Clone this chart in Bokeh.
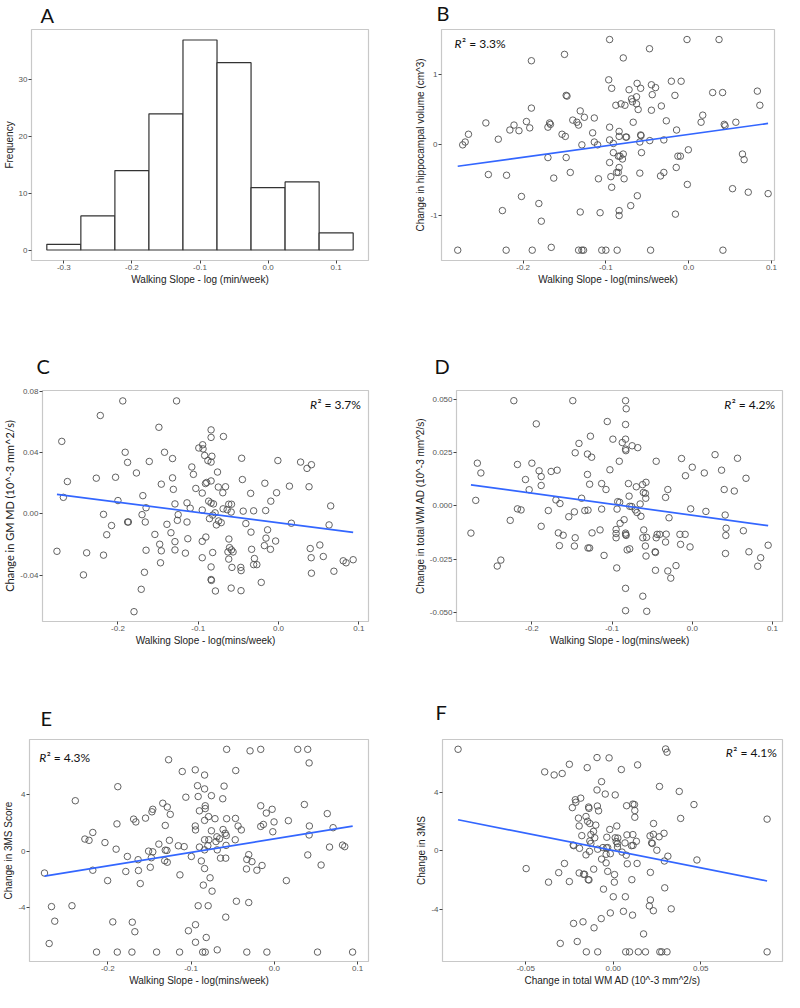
from bokeh.plotting import figure
from bokeh.layouts import column, row
from bokeh.models import FixedTicker, Label, Range1d
from bokeh.embed import file_html
from bokeh.resources import INLINE

# ---------------- data ----------------
# A: histogram of walking slope
bin_edges = [-0.325, -0.275, -0.225, -0.175, -0.125, -0.075, -0.025, 0.025, 0.075, 0.125]
hist_counts = [1, 6, 14, 24, 37, 33, 11, 12, 3]

# B: walking slope vs change in hippocampal volume
b_x = [-0.279, -0.2205, -0.189, -0.166, -0.133, -0.129, -0.127, -0.105, -0.100, -0.0864, -0.046, 0.0414,
       -0.0955, -0.002, 0.0367, -0.0473, -0.150, -0.190, -0.079,
       -0.0966, -0.0209, -0.0091, -0.0623, -0.045, -0.040, -0.093, -0.058, -0.072, 0.083,
       0.029, 0.041, -0.044, -0.0166, -0.148, -0.147, -0.063, -0.069, -0.068, -0.0817,
       -0.077, -0.088, -0.063, -0.033, 0.086, -0.190, -0.061, -0.045, -0.131,
       -0.140, -0.126, -0.135, -0.133, -0.114, -0.245, -0.211, -0.196, -0.192, -0.205,
       -0.216, -0.168, -0.167, -0.170, -0.153, -0.149, -0.067, -0.027, 0.017, 0.015,
       0.057, 0.043, 0.044, -0.0955, -0.0146, -0.116, -0.084, -0.084, -0.076, -0.075,
       -0.058, -0.0575, -0.266, -0.270, -0.273, -0.230, -0.0955, -0.114, -0.110, -0.129,
       -0.091, -0.059, -0.047, -0.030,
       -0.0004, -0.170, -0.148, -0.085, -0.083, -0.080, -0.091, -0.079, -0.057, -0.013,
       -0.010, -0.0955, 0.065, 0.067, -0.084, -0.015, -0.087, -0.085, -0.030, -0.034,
       -0.143, -0.094, -0.163, -0.109, -0.078, -0.059, -0.242, -0.220, -0.093, -0.0016,
       0.053, 0.072, 0.096, -0.062, -0.202, -0.181, -0.070, -0.084, -0.084, -0.225,
       -0.131, -0.107, -0.016, -0.178]
b_y = [-1.49, -1.49, -1.49, -1.45, -1.49, -1.49, -1.49, -1.49, -1.49, -1.49, -1.49, -1.49,
       1.49, 1.49, 1.49, 1.36, 1.28, 1.19, 1.23,
       0.92, 0.90, 0.90, 0.87, 0.85, 0.81, 0.80, 0.80, 0.78, 0.76,
       0.74, 0.74, 0.71, 0.70, 0.70, 0.69, 0.68, 0.65, 0.61, 0.58,
       0.56, 0.56, 0.58, 0.55, 0.56, 0.52, 0.50, 0.49, 0.48,
       0.35, 0.39, 0.32, 0.28, 0.38, 0.31, 0.28, 0.33, 0.24, 0.20,
       0.21, 0.31, 0.29, 0.25, 0.15, 0.12, 0.32, 0.34, 0.42, 0.32,
       0.32, 0.29, 0.27, 0.25, 0.21, 0.17, 0.19, 0.12, 0.11, 0.11,
       0.14, 0.13, 0.15, 0.04, 0.00, 0.08, 0.07, 0.04, 0.00, 0.00,
       0.02, 0.04, 0.06, 0.07,
       -0.07, -0.18, -0.18, -0.16, -0.16, -0.20, -0.11, -0.13, -0.11, -0.16,
       -0.16, -0.25, -0.13, -0.21, -0.32, -0.32, -0.39, -0.39, -0.39, -0.44,
       -0.39, -0.45, -0.47, -0.48, -0.48, -0.40, -0.42, -0.43, -0.60, -0.56,
       -0.62, -0.67, -0.69, -0.72, -0.73, -0.83, -0.86, -0.93, -1.00, -0.93,
       -0.95, -0.96, -0.98, -1.08]
b_fit_x = [-0.279, 0.0959]
b_fit_y = [-0.303, 0.303]

# C: walking slope vs change in GM MD
c_x = [-0.194, -0.127, -0.222, -0.149, -0.084, -0.084, -0.0686, -0.270, -0.0945, -0.0993,
       -0.094, -0.191, -0.142, -0.092, -0.083, -0.132, -0.0459, -0.188, -0.161, -0.088,
       -0.084, -0.0008, 0.0275, 0.041, 0.0355, -0.108, -0.106, -0.076, -0.177, -0.227,
       -0.203, -0.132, -0.263, -0.084, -0.091, -0.0895, -0.045, -0.146, -0.075, -0.066,
       -0.017, 0.0136, 0.038, -0.103, -0.131, -0.095, -0.0694, -0.0347, -0.0024, -0.169,
       -0.268, -0.200, -0.087, -0.0096, -0.129, -0.114, -0.084, -0.081, -0.062, -0.0586,
       0.065, -0.165, -0.110, -0.095, -0.069, -0.064, -0.059, -0.044, -0.031, -0.016,
       -0.218, -0.170, -0.125, -0.079, -0.082, -0.086, -0.126, -0.188, -0.187, -0.166,
       -0.114, -0.0746, -0.0714, -0.0774, -0.139, -0.0407, 0.016, 0.063, -0.208, -0.0136,
       -0.134, -0.0343, -0.214, -0.154, -0.0905, -0.113, -0.0156, -0.129, -0.095, -0.0618,
       -0.0036, -0.148, 0.0515, -0.0176, -0.0100, -0.061, -0.0335, 0.0395, -0.276, -0.165,
       -0.146, -0.129, -0.0586, -0.0566, -0.082, -0.116, -0.239, -0.063, -0.218, 0.0558,
       0.0407, -0.095, -0.062, -0.030, 0.0806, 0.0842, 0.093, -0.147, -0.031, -0.027,
       -0.084, -0.058, -0.047, -0.0466, 0.069, -0.167, 0.041, -0.243, -0.084, -0.0836,
       -0.0215, -0.171, -0.059, -0.0786, -0.0467, -0.180]
c_y = [0.0736, 0.0736, 0.0641, 0.0564, 0.0547, 0.0498, 0.0504, 0.0472, 0.0450, 0.0429,
       0.0423, 0.0401, 0.0401, 0.0380, 0.0375, 0.0360, 0.0362, 0.0335, 0.0341, 0.0347,
       0.0337, 0.0347, 0.0337, 0.0320, 0.0296, 0.0305, 0.0257, 0.0272, 0.0266, 0.0232,
       0.0238, 0.0234, 0.0210, 0.0214, 0.0197, 0.0204, 0.0223, 0.0193, 0.0174, 0.0176,
       0.0199, 0.0180, 0.0176, 0.0165, 0.0159, 0.0135, 0.0137, 0.0133, 0.0137, 0.0118,
       0.0107, 0.0086, 0.0082, 0.0082, 0.0064, 0.0071, 0.0070, 0.0064, 0.0062, 0.0062,
       0.0051, 0.0039, 0.0036, 0.0024, 0.0032, 0.0026, 0.0011, 0.0017, 0.0019, 0.0021,
       -0.0004, -0.0006, -0.0006, 0.0006, -0.0009, -0.0032, -0.0043, -0.0054, -0.0054, -0.0054,
       -0.0054, -0.0047, -0.0058, -0.0073, -0.0069, -0.0064, -0.0062, -0.0073, -0.0077, -0.0105,
       -0.0124, -0.0120, -0.0137, -0.0135, -0.0152, -0.0163, -0.0159, -0.0182, -0.0180, -0.0165,
       -0.0178, -0.0199, -0.0204, -0.0208, -0.0232, -0.0221, -0.0232, -0.0227, -0.0245, -0.0238,
       -0.0242, -0.0236, -0.0236, -0.0249, -0.0253, -0.0257, -0.0255, -0.0249, -0.0270, -0.0279,
       -0.0287, -0.0287, -0.0296, -0.0292, -0.0307, -0.0320, -0.0300, -0.0320, -0.0332, -0.0332,
       -0.0347, -0.0350, -0.0350, -0.0371, -0.0375, -0.0382, -0.0388, -0.0399, -0.0429, -0.0435,
       -0.0448, -0.0493, -0.0485, -0.0504, -0.0502, -0.0639]
c_fit_x = [-0.276, 0.093]
c_fit_y = [0.01265, -0.0122]

# D: walking slope vs change in total WM AD
d_x = [-0.2225, -0.149, -0.0832, -0.0824, -0.1945, -0.106, -0.0832, -0.099, -0.0832, -0.127,
       -0.0873, -0.0832, -0.0828, -0.075, -0.068, -0.1413, -0.146, -0.1307, -0.1255, -0.045,
       -0.091, -0.0134, 0.0284, 0.0564, 0.0, -0.268, -0.218, -0.200, -0.2636, -0.191,
       -0.176, -0.1685, -0.1884, -0.1027, -0.1307, 0.015, -0.0085, 0.0365, 0.067, -0.208,
       -0.128, -0.113, -0.1884, -0.0796, -0.0698, -0.062, -0.0577, -0.1076, -0.2034, -0.0305,
       0.0398, 0.0524, -0.061, -0.0585, -0.0333, -0.0788, -0.058, -0.138, -0.270, -0.170,
       -0.165, -0.093, -0.0905, -0.065, -0.078, -0.0755, -0.0938, -0.113, -0.218, -0.2135,
       -0.1795, -0.134, -0.130, -0.147, -0.071, -0.069, -0.002, 0.017, -0.154, -0.064,
       -0.085, 0.041, -0.029, -0.227, -0.090, -0.1884, 0.0422, -0.115, -0.095, -0.0605,
       0.0637, -0.095, -0.0832, -0.276, -0.167, -0.161, -0.125, -0.083, -0.0825, -0.0438,
       -0.0406, -0.0325, -0.0154, -0.0089, 0.0418, -0.146, -0.095, -0.0617, -0.057, -0.045,
       -0.0333, -0.0146, -0.0028, 0.0946, -0.1657, -0.147, -0.130, -0.128, -0.0585, -0.0812,
       -0.0780, -0.0463, -0.0459, 0.0706, 0.0414, -0.110, -0.0577, 0.0853, -0.2387, -0.2432,
       -0.0203, 0.0816, -0.0942, -0.0459, -0.0305, -0.0268, -0.0832, -0.0617, -0.0832, -0.0568]
d_y = [0.0495, 0.0495, 0.0495, 0.0457, 0.0386, 0.0397, 0.0383, 0.0314, 0.0314, 0.0328,
       0.0298, 0.0267, 0.0260, 0.0283, 0.0274, 0.0294, 0.0250, 0.0244, 0.0229, 0.0210,
       0.0210, 0.0223, 0.0241, 0.0224, 0.0182, 0.0201, 0.0195, 0.0201, 0.0155, 0.0165,
       0.0162, 0.0168, 0.0138, 0.0170, 0.0148, 0.0155, 0.0142, 0.0168, 0.0130, 0.0124,
       0.0102, 0.0105, 0.0096, 0.0105, 0.0090, 0.0100, 0.0111, 0.0077, 0.0076, 0.0077,
       0.0077, 0.0070, 0.0063, 0.0059, 0.0040, 0.0046, 0.0036, 0.0036, 0.0026, 0.0028,
       0.0011, 0.0020, 0.0017, 0.0009, -0.0002, -0.0003, -0.0015, -0.0015, -0.0014, -0.0019,
       -0.0022, -0.0022, -0.0020, -0.0028, -0.0019, -0.0031, -0.0014, -0.0026, -0.0051, -0.0049,
       -0.0065, -0.0043, -0.0056, -0.0068, -0.0082, -0.0096, -0.0105, -0.0113, -0.0111, -0.0113,
       -0.0117, -0.0130, -0.0128, -0.0128, -0.0127, -0.0138, -0.0127, -0.0135, -0.0139, -0.0134,
       -0.0134, -0.0133, -0.0134, -0.0134, -0.0139, -0.0150, -0.0150, -0.0150, -0.0148, -0.0150,
       -0.0170, -0.0181, -0.0193, -0.0185, -0.0187, -0.0189, -0.0198, -0.0198, -0.0189, -0.0207,
       -0.0202, -0.0216, -0.0219, -0.0216, -0.0224, -0.0233, -0.0236, -0.0244, -0.0255, -0.0283,
       -0.0281, -0.0284, -0.0292, -0.0303, -0.0306, -0.0340, -0.0388, -0.0425, -0.0493, -0.0496]
d_fit_x = [-0.276, 0.0946]
d_fit_y = [0.0099, -0.0093]

# E: walking slope vs change in 3MS score
e_x = [-0.0573, -0.0292, -0.0164, 0.028, 0.040, 0.0417, -0.127, -0.1106, -0.095, -0.0464,
       -0.0838, -0.0923, -0.0604, -0.188, -0.0838, -0.0756, -0.0915, -0.1063, -0.062, -0.239,
       -0.134, 0.036, -0.1286, -0.083, -0.0164, -0.083, -0.146, -0.147, -0.0027, -0.090,
       -0.0097, -0.125, 0.0635, -0.079, -0.1547, -0.169, -0.0713, -0.0573, -0.0467, -0.0838,
       -0.1663, 0.0168, -0.0004, -0.189, -0.131, -0.095, -0.0436, 0.042, -0.0164, -0.0132,
       0.0705, -0.0947, -0.0756, -0.0616, -0.0397, -0.218, -0.0019, -0.059, -0.0577, 0.0417,
       -0.069, -0.0658, -0.2275, -0.2225, -0.126, -0.0838, -0.0787, -0.047, -0.0701, -0.2034,
       -0.1387, -0.1153, -0.1083, -0.090, -0.0799, -0.058, 0.0662, 0.0818, 0.0845, -0.190,
       -0.0838, -0.0686, -0.151, -0.146, -0.131, -0.129, -0.0997, -0.1765, -0.1477, -0.0647,
       -0.0584, -0.1636, -0.1317, -0.1286, -0.0877, -0.0308, -0.0331, -0.0269, -0.149, -0.0148,
       0.0561, -0.276, -0.218, -0.1632, -0.1784, -0.0838, -0.0335, -0.021, -0.1134, 0.0401,
       -0.2002, 0.0144, -0.0772, -0.161, -0.0853, -0.0748, -0.0456, -0.0308, -0.2676, -0.243,
       -0.0915, -0.0795, -0.0584, -0.2637, -0.194, -0.1706, -0.1675, -0.0947, -0.1032, -0.0818,
       -0.2704, -0.0947, -0.0686, -0.2135, -0.1886, -0.171, -0.1414, -0.1138, -0.0861, -0.083,
       -0.0331, -0.009, 0.0518, 0.0939]
e_y = [7.25, 7.14, 7.25, 7.25, 7.25, 6.28, 6.51, 5.67, 5.79, 5.74,
       5.42, 4.66, 4.63, 4.59, 4.43, 3.95, 3.89, 3.84, 3.73, 3.59,
       3.41, 3.32, 3.14, 3.23, 3.23, 3.03, 2.98, 2.80, 2.98, 2.87,
       2.71, 2.62, 2.67, 2.46, 2.35, 2.28, 2.31, 2.31, 2.33, 2.19,
       2.08, 2.17, 2.08, 1.94, 1.83, 1.79, 1.79, 1.79, 1.76, 1.90,
       1.67, 1.51, 1.45, 1.54, 1.51, 1.33, 1.38, 1.27, 1.11, 1.15,
       1.02, 0.88, 0.86, 0.77, 0.77, 0.81, 0.81, 0.81, 0.68, 0.61,
       0.50, 0.38, 0.32, 0.29, 0.38, 0.41, 0.29, 0.43, 0.32, 0.14,
       0.09, 0.09, 0.0, -0.05, 0.07, 0.05, -0.38, -0.38, -0.47, -0.50,
       -0.50, -0.61, -0.68, -0.79, -0.70, -0.25, -0.59, -0.75, -1.15, -1.02,
       -0.99, -1.56, -1.36, -1.38, -1.45, -1.24, -1.27, -1.36, -1.69, -0.27,
       -2.10, -2.10, -1.90, -2.31, -2.42, -2.85, -3.57, -3.66, -3.95, -3.89,
       -3.89, -3.89, -4.70, -4.99, -5.04, -5.06, -5.74, -5.24, -5.67, -6.15,
       -6.58, -6.49, -7.03, -7.19, -7.19, -7.19, -7.19, -7.19, -7.19, -7.19,
       -7.19, -7.19, -7.19, -7.19]
e_fit_x = [-0.276, 0.094]
e_fit_y = [-1.785, 1.785]

# F: change in total WM AD vs change in 3MS
f_x = [-0.0887, 0.0299, 0.0307, -0.0093, -0.0024, -0.0251, 0.0139, -0.0149, 0.0046, -0.0392,
       -0.0338, -0.0292, -0.0067, -0.0093, -0.0046, 0.0011, 0.0264, 0.0377, 0.0461, -0.0217,
       -0.0214, -0.0186, -0.0234, -0.0141, -0.0139, -0.0091, -0.0084, 0.0076, 0.0112, 0.0121,
       0.0123, 0.0123, 0.0385, 0.0879, -0.0199, -0.0156, -0.0147, -0.0134, -0.0100, -0.0195,
       -0.0113, -0.0020, 0.0020, 0.0230, -0.0180, -0.0128, -0.0106, -0.0037, 0.0011, 0.0026,
       0.0078, 0.0112, 0.0210, 0.0229, 0.0262, 0.0290, -0.0134, -0.0128, 0.0017, 0.0024,
       0.0067, 0.0104, 0.0113, 0.0132, 0.0219, 0.0223, -0.0229, -0.0226, -0.0193, -0.0089,
       -0.0059, -0.0039, -0.0032, 0.0024, 0.0050, -0.0136, -0.0156, 0.0074, -0.0017, -0.0041,
       0.0249, 0.0312, 0.0292, 0.0478, -0.0067, -0.0041, -0.0279, 0.0080, 0.0136, -0.0498,
       -0.0112, -0.0032, -0.0312, -0.0195, -0.0164, -0.0170, 0.0007, 0.0212, -0.0143, -0.0139,
       0.0106, -0.0370, -0.0251, 0.0006, -0.0056, 0.0294, 0.0000, 0.0069, 0.0212, 0.0206,
       0.0229, 0.0331, 0.0058, -0.0017, 0.0110, -0.0069, -0.0173, -0.0227, -0.0110, 0.0173,
       -0.0206, -0.0303, -0.0154, -0.0089, 0.0071, 0.0093, 0.0143, 0.0184, 0.0266, 0.0277,
       0.0307, 0.0879]
f_y = [6.96, 6.98, 6.76, 6.39, 6.37, 5.93, 5.89, 5.70, 5.57, 5.41,
       5.20, 5.30, 4.74, 4.17, 3.89, 3.83, 4.41, 4.07, 3.17, 3.50,
       3.33, 3.61, 2.96, 3.00, 2.91, 3.07, 2.74, 3.09, 3.20, 3.17,
       2.76, 2.30, 2.22, 2.17, 2.24, 2.35, 2.02, 1.87, 1.76, 1.70,
       1.33, 1.46, 1.70, 1.87, 1.04, 1.11, 0.89, 0.93, 0.89, 0.87,
       1.09, 1.11, 1.02, 1.13, 0.96, 1.20, 0.67, 0.50, 0.63, 0.50,
       0.54, 0.35, 0.37, 0.65, 0.54, 0.50, 0.39, 0.35, 0.17, 0.11,
       0.22, 0.20, 0.22, 0.26, -0.09, -0.04, -0.28, -0.30, -0.20, -0.24,
       0.04, -0.37, -0.70, -0.63, -0.57, -0.83, -0.87, -0.89, -0.87, -1.22,
       -1.26, -1.41, -1.50, -1.52, -1.61, -1.61, -1.63, -1.48, -1.98, -2.00,
       -1.98, -2.15, -2.11, -2.15, -2.63, -2.54, -3.15, -3.15, -3.37, -3.78,
       -4.11, -3.98, -4.15, -4.26, -4.41, -4.65, -4.87, -4.98, -5.28, -5.70,
       -6.22, -6.35, -6.93, -6.93, -6.93, -6.93, -6.93, -6.93, -6.93, -6.93,
       -6.93, -6.93]
f_fit_x = [-0.0887, 0.0879]
f_fit_y = [2.13, -2.07]

# ticks and labels
slope_ticks_a = [-0.3, -0.2, -0.1, 0.0, 0.1]
slope_labels_a = ["-0.3", "-0.2", "-0.1", "0.0", "0.1"]
freq_ticks = [0, 10, 20, 30]
freq_labels = ["0", "10", "20", "30"]
slope_ticks = [-0.2, -0.1, 0.0, 0.1]
slope_labels = ["-0.2", "-0.1", "0.0", "0.1"]
hippo_ticks = [-1, 0, 1]
hippo_labels = ["-1", "0", "1"]
gmmd_ticks = [-0.04, 0.0, 0.04, 0.08]
gmmd_labels = ["-0.04", "0.00", "0.04", "0.08"]
wmad_ticks = [-0.05, -0.025, 0.0, 0.025, 0.05]
wmad_labels = ["-0.050", "-0.025", "0.000", "0.025", "0.050"]
ms_ticks = [-4, 0, 4]
ms_labels = ["-4", "0", "4"]
wmad_x_ticks = [-0.05, 0.0, 0.05]
wmad_x_labels = ["-0.05", "0.00", "0.05"]

panel_letters = ["A", "B", "C", "D", "E", "F"]
r2_texts = {"B": "3.3%", "C": "3.7%", "D": "4.2%", "E": "4.3%", "F": "4.1%"}

# ---------------- styling helpers ----------------
TICK_FONT = "Liberation Sans"
LETTER_FONT = "Lato"
W = 392
FULL_W = 2 * W


def letter_strip(letters, h, positions):
    """A full-width strip above a row of panels carrying the panel letters (pixel coords)."""
    s = figure(width=FULL_W, height=h, x_range=Range1d(0, FULL_W), y_range=Range1d(0, h),
               output_backend="svg", toolbar_location=None,
               x_axis_type=None, y_axis_type=None, min_border=0,
               outline_line_color=None, background_fill_color="white",
               border_fill_color="white")
    s.grid.visible = False
    for letter, (lx, ly) in zip(letters, positions):
        s.add_layout(Label(x=lx, y=ly, text=letter, text_font=LETTER_FONT,
                           text_font_size="20px", text_color="#111111",
                           text_align="left", text_baseline="alphabetic"))
    return s


def make_fig(h, xr, yr, bl, br, bt, bb):
    p = figure(width=W, height=h, x_range=Range1d(*xr), y_range=Range1d(*yr),
               output_backend="svg", toolbar_location=None,
               min_border_left=bl, min_border_right=br,
               min_border_top=bt, min_border_bottom=bb,
               background_fill_color="white", border_fill_color="white")
    p.grid.visible = False
    p.outline_line_color = "#c8c8c8"
    p.outline_line_width = 1.2
    return p


def style_axes(p, xt, xl, yt, yl, xlab, ylab, ylab_font=TICK_FONT, ylab_size="10px"):
    p.xaxis.ticker = FixedTicker(ticks=xt)
    p.xaxis.major_label_overrides = dict(zip(xt, xl))
    p.yaxis.ticker = FixedTicker(ticks=yt)
    p.yaxis.major_label_overrides = dict(zip(yt, yl))
    p.xaxis.axis_label = xlab
    p.yaxis.axis_label = ylab
    for ax in (p.xaxis[0], p.yaxis[0]):
        ax.axis_line_color = None
        ax.minor_tick_line_color = None
        ax.major_tick_in = 0
        ax.major_tick_out = 3
        ax.major_tick_line_color = "#444444"
        ax.major_label_text_font = TICK_FONT
        ax.major_label_text_font_size = "8px"
        ax.major_label_text_color = "#555555"
        ax.major_label_standoff = 1
        ax.axis_label_text_font = TICK_FONT
        ax.axis_label_text_font_size = "10px"
        ax.axis_label_text_font_style = "normal"
        ax.axis_label_text_color = "#222222"
        ax.axis_label_standoff = 1
    p.yaxis[0].axis_label_text_font = ylab_font
    p.yaxis[0].axis_label_text_font_size = ylab_size


def add_scatter(p, xs, ys, fx, fy):
    p.scatter(xs, ys, marker="circle", size=6.5, fill_color=None,
              line_color="#505050", line_width=0.9)
    p.line(fx, fy, line_color="#3366FF", line_width=1.7)


def add_r2(p, x, y, value_text):
    p.add_layout(Label(x=x, y=y, text="R", text_font=LETTER_FONT, text_font_style="italic",
                       text_font_size="12px", text_baseline="middle", text_align="left",
                       text_color="#111111"))
    p.add_layout(Label(x=x, y=y, x_offset=7.5, text="\u00b2 = " + value_text, text_font=LETTER_FONT,
                       text_font_size="12px", text_baseline="middle", text_align="left",
                       text_color="#111111"))


# ---------------- row 1 ----------------
S1_H, R1_H = 27, 275
s1 = letter_strip(panel_letters[0:2], S1_H, [(40, 13), (436, 15)])
pA = make_fig(R1_H, (-0.3475, 0.1475), (-1.85, 38.85), 27, 24, 2, 42)
pA.quad(left=bin_edges[:-1], right=bin_edges[1:], top=hist_counts, bottom=0,
        fill_color="white", line_color="#333333", line_width=1.2)
style_axes(pA, slope_ticks_a, slope_labels_a, freq_ticks, freq_labels,
           "Walking Slope - log (min/week)", "Frequency")

pB = make_fig(R1_H, (-0.2986, 0.1037), (-1.636, 1.632), 49, 10, 2, 42)
add_scatter(pB, b_x, b_y, b_fit_x, b_fit_y)
style_axes(pB, slope_ticks, slope_labels, hippo_ticks, hippo_labels,
           "Walking Slope - log(mins/week)", "Change in hippocampal volume (cm^3)")
add_r2(pB, -0.2828, 1.436, r2_texts["B"])

# ---------------- row 2 ----------------
S2_H, R2_H = 80, 272
s2 = letter_strip(panel_letters[2:4], S2_H, [(36, 17), (434, 17)])
pC = make_fig(R2_H, (-0.294, 0.1121), (-0.0703, 0.0804), 36, 24, 8, 33)
add_scatter(pC, c_x, c_y, c_fit_x, c_fit_y)
style_axes(pC, slope_ticks, slope_labels, gmmd_ticks, gmmd_labels,
           "Walking Slope - log(mins/week)", "Change in GM MD (10^-3 mm^2/s)",
           ylab_font=LETTER_FONT, ylab_size="11px")
add_r2(pC, 0.0391, 0.0712, r2_texts["C"])

pD = make_fig(R2_H, (-0.294, 0.1125), (-0.0544, 0.0543), 64, 2, 8, 33)
add_scatter(pD, d_x, d_y, d_fit_x, d_fit_y)
style_axes(pD, slope_ticks, slope_labels, wmad_ticks, wmad_labels,
           "Walking Slope - log(mins/week)", "Change in total WM AD (10^-3 mm^2/s)")
add_r2(pD, 0.0398, 0.0476, r2_texts["D"])

# ---------------- row 3 ----------------
S3_H, R3_H = 78, 260
s3 = letter_strip(panel_letters[4:6], S3_H, [(40, 15), (435, 21)])
pE = make_fig(R3_H, (-0.294, 0.113), (-7.86, 7.95), 26, 24, 7, 31)
add_scatter(pE, e_x, e_y, e_fit_x, e_fit_y)
style_axes(pE, slope_ticks, slope_labels, ms_ticks, ms_labels,
           "Walking Slope - log(mins/week)", "Change in 3MS Score")
add_r2(pE, -0.2824, 6.64, r2_texts["E"])

pF = make_fig(R3_H, (-0.0976, 0.0967), (-7.59, 7.63), 50, 2, 7, 31)
add_scatter(pF, f_x, f_y, f_fit_x, f_fit_y)
style_axes(pF, wmad_x_ticks, wmad_x_labels, ms_ticks, ms_labels,
           "Change in total WM AD (10^-3 mm^2/s)", "Change in 3MS")
add_r2(pF, 0.0643, 6.74, r2_texts["F"])

layout = column(s1, row(pA, pB), s2, row(pC, pD), s3, row(pE, pF))

with open("out.html", "w") as fh:
    fh.write(file_html(layout, INLINE))
